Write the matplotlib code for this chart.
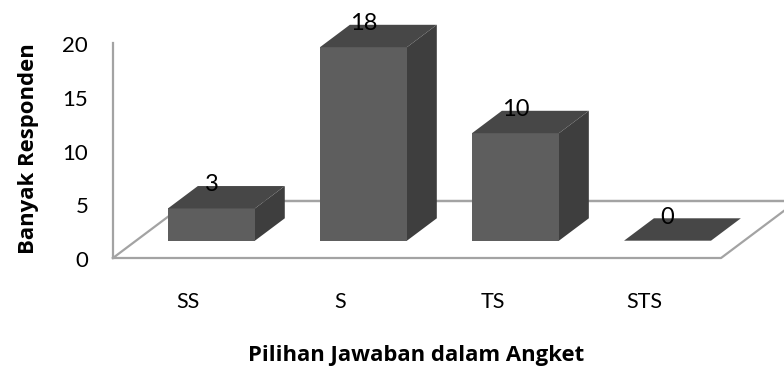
import matplotlib
matplotlib.use('Agg')
import matplotlib.pyplot as plt
from matplotlib.patches import Polygon

plt.rcParams['font.family'] = ['Lato', 'DejaVu Sans']

categories = ['SS', 'S', 'TS', 'STS']
values = [3, 18, 10, 0]
y_ticks = [0, 5, 10, 15, 20]

FRONT = '#5e5e5e'
TOP = '#474747'
SIDE = '#3e3e3e'
FLOOR = '#a3a3a3'

# depth direction of the fake 3D projection, per unit of depth
DX = 0.00893
DY = 0.0947
BAR_W = 0.572
BAR_DEPTH = 22
BAR_Z = 17
FLOOR_DEPTH = 56
LEFT = -0.496
RIGHT = 3.504
XMAX = 3.918


def proj(x, y, d):
    return x + d * DX, y + d * DY


def bar3d(ax, x, val):
    x0, x1 = x - BAR_W / 2, x + BAR_W / 2
    z0, z1 = BAR_Z, BAR_Z + BAR_DEPTH
    front = [proj(x0, 0, z0), proj(x1, 0, z0), proj(x1, val, z0), proj(x0, val, z0)]
    side = [proj(x1, 0, z0), proj(x1, 0, z1), proj(x1, val, z1), proj(x1, val, z0)]
    top = [proj(x0, val, z0), proj(x1, val, z0), proj(x1, val, z1), proj(x0, val, z1)]
    ax.add_patch(Polygon(side, fc=SIDE, ec='none', zorder=3))
    ax.add_patch(Polygon(front, fc=FRONT, ec='none', zorder=3))
    ax.add_patch(Polygon(top, fc=TOP, ec='none', zorder=3))
    lx, ly = proj(x, val, z0)
    ax.text(lx, ly + 2.2, str(val), ha='center', va='center', fontsize=17, color='black', zorder=4)


fig = plt.figure(figsize=(7.84, 3.67), dpi=100)
ax = fig.add_axes([0, 0, 1, 1])
ax.set_xlim(-1.239, XMAX)
ax.set_ylim(-10.14, 24)
ax.axis('off')

# floor and back wall
floor = [proj(LEFT, 0, 0), proj(RIGHT, 0, 0), proj(RIGHT, 0, FLOOR_DEPTH), proj(LEFT, 0, FLOOR_DEPTH)]
ax.plot(*zip(*floor, floor[0]), color=FLOOR, lw=1.6, zorder=1)
ax.plot([LEFT, LEFT], [0, 20], color=FLOOR, lw=1.6, zorder=1)
ax.plot([proj(LEFT, 0, FLOOR_DEPTH)[0], XMAX], [proj(0, 0, FLOOR_DEPTH)[1]] * 2, color=FLOOR, lw=1.6, zorder=1)

for i, v in enumerate(values):
    bar3d(ax, i, v)

for t in y_ticks:
    ax.text(LEFT - 0.163, t - 0.3, str(t), ha='right', va='center', fontsize=16, color='black')

for i, c in enumerate(categories):
    ax.text(i, -4.07, c, ha='center', va='center', fontsize=15.5, color='black')

ax.text(0.531, 0.030, 'Pilihan Jawaban dalam Angket', transform=ax.transAxes, ha='center', va='center',
        fontsize=15.9, fontweight='bold', family='Open Sans')
ax.text(0.036, 0.594, 'Banyak Responden', transform=ax.transAxes, ha='center', va='center',
        rotation=90, fontsize=15.9, fontweight='bold', family='Open Sans')

fig.savefig('out.png', dpi=100)
